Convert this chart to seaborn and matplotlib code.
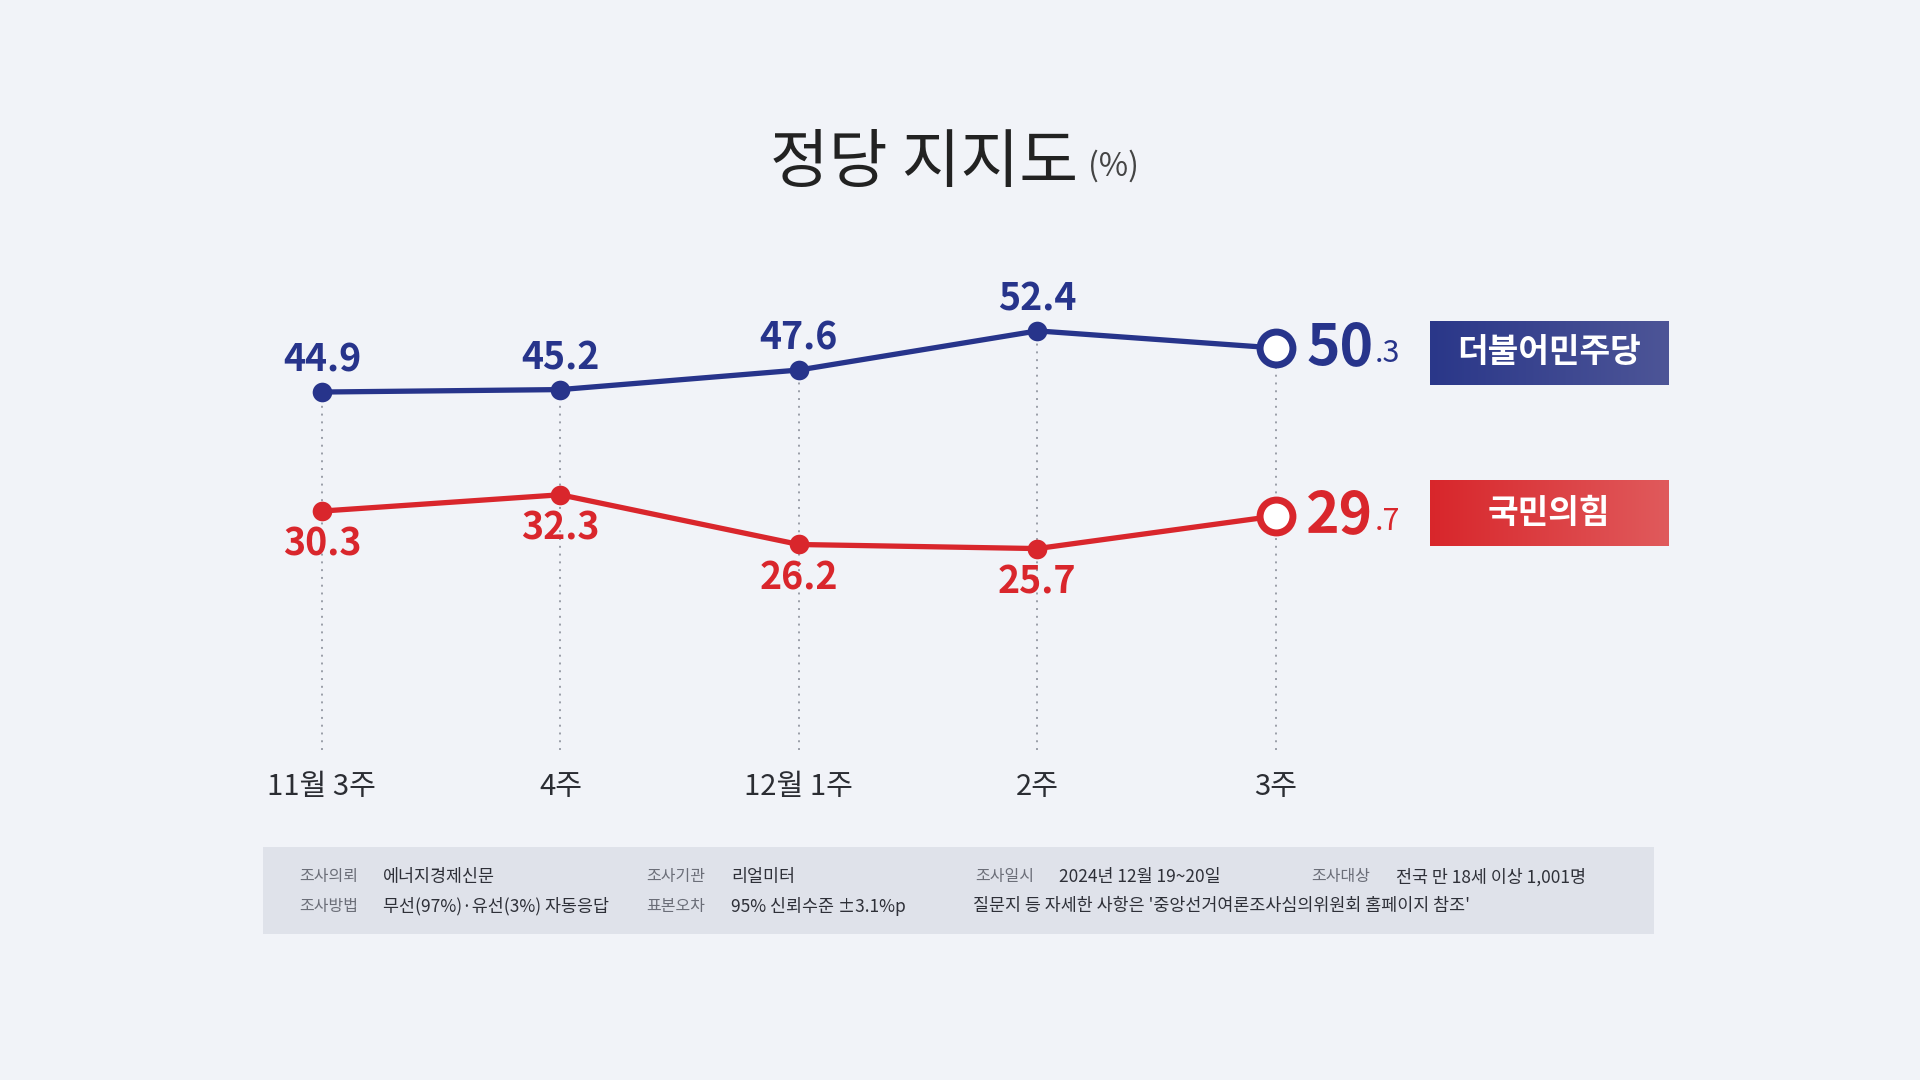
import matplotlib
matplotlib.use("Agg")
import matplotlib.pyplot as plt
import numpy as np
import pandas as pd
import seaborn as sns

# data
weeks = ["11월 3주", "4주", "12월 1주", "2주", "3주"]
parties = ["더불어민주당", "국민의힘"]
dem_vals = [44.9, 45.2, 47.6, 52.4, 50.3]
ppp_vals = [30.3, 32.3, 26.2, 25.7, 29.7]

colors = {"더불어민주당": "#27348b", "국민의힘": "#d9262c"}
box_grad = {"더불어민주당": ("#2a3789", "#4d5597"), "국민의힘": ("#d8262b", "#e05a5c")}

footer_rows = [
    [("조사의뢰", "에너지경제신문"), ("조사기관", "리얼미터"),
     ("조사일시", "2024년 12월 19~20일"), ("조사대상", "전국 만 18세 이상 1,001명")],
    [("조사방법", "무선(97%)·유선(3%) 자동응답"), ("표본오차", "95% 신뢰수준 ±3.1%p"),
     ("", "질문지 등 자세한 사항은 '중앙선거여론조사심의위원회 홈페이지 참조'")],
]

BG = "#f1f3f8"
FONT = ["Noto Sans CJK KR", "DejaVu Sans"]

sns.set_theme(style="white")
plt.rcParams["font.family"] = FONT

df = pd.DataFrame({
    "x": list(range(len(weeks))) * 2,
    "value": dem_vals + ppp_vals,
    "party": [parties[0]] * len(weeks) + [parties[1]] * len(weeks),
})

fig = plt.figure(figsize=(19.2, 10.8), dpi=100, facecolor=BG)
ax = fig.add_axes([202.75 / 1920, 0.3056, 1550 / 1920, 0.4454])
ax.set_facecolor(BG)

# dotted guides from the top point down
tops = np.maximum(dem_vals, ppp_vals)
ax.vlines(range(len(weeks)), 1, tops, colors="#9a9ea8", linestyles=(0, (1, 3)), lw=1.4, zorder=1)

sns.lineplot(data=df, x="x", y="value", hue="party", palette=colors, lw=3.8,
             legend=False, ax=ax, zorder=3)

last = len(weeks) - 1
for p in parties:
    sub = df[df.party == p]
    body = sub[sub.x < last]
    end = sub[sub.x == last]
    sns.scatterplot(data=body, x="x", y="value", color=colors[p], s=200,
                    edgecolor=colors[p], linewidth=0, ax=ax, zorder=4, legend=False)
    sns.scatterplot(data=end, x="x", y="value", color="white", s=560,
                    edgecolor=colors[p], linewidth=5, ax=ax, zorder=5, legend=False)

# value labels
for i in range(last):
    ax.annotate(f"{dem_vals[i]}", (i, dem_vals[i]), xytext=(0, 23), textcoords="offset points",
                ha="center", va="center", fontsize=27, fontweight="bold",
                color=colors[parties[0]])
    ax.annotate(f"{ppp_vals[i]}", (i, ppp_vals[i]), xytext=(0, -24), textcoords="offset points",
                ha="center", va="center", fontsize=27, fontweight="bold",
                color=colors[parties[1]])

# last-point big labels: big integer part, small decimal
for p, vals in zip(parties, [dem_vals, ppp_vals]):
    whole, frac = f"{vals[last]:.1f}".split(".")
    t = ax.annotate(whole, (last, vals[last]), xytext=(22, 0), textcoords="offset points",
                    ha="left", va="center", fontsize=41, fontweight="bold", color=colors[p])
    ax.annotate("." + frac, xy=(1.0, 0.13), xycoords=t, xytext=(1, 0),
                textcoords="offset points", ha="left", va="bottom",
                fontsize=22, fontweight="medium", color=colors[p])

ax.set_xlim(-0.5, 6.0)
ax.set_ylim(1, 60)
ax.set_xticks(range(len(weeks)))
ax.set_xticklabels(weeks, fontsize=21, color="#2b2d33")
ax.tick_params(axis="x", length=0, pad=16)
ax.set_yticks([])
ax.set_xlabel("")
ax.set_ylabel("")
for s in ax.spines.values():
    s.set_visible(False)

# legend boxes with gradient
grad = np.linspace(0, 1, 256).reshape(1, -1)
for p, rect in zip(parties, [[0.7448, 0.6435, 0.124, 0.0593], [0.7448, 0.4944, 0.124, 0.0611]]):
    bax = fig.add_axes(rect)
    cmap = matplotlib.colors.LinearSegmentedColormap.from_list(p, box_grad[p])
    bax.imshow(grad, aspect="auto", cmap=cmap, extent=(0, 1, 0, 1))
    bax.text(0.5, 0.5, p, ha="center", va="center", fontsize=24, fontweight="bold",
             color="white", transform=bax.transAxes)
    bax.set_axis_off()

# title
fig.text(1078 / 1920, 0.848, "정당 지지도", ha="right", va="center", fontsize=46, color="#222222")
fig.text(1088 / 1920, 0.846, "(%)", ha="left", va="center", fontsize=23, color="#444444")

# footer box
fax = fig.add_axes([263 / 1920, (1080 - 934) / 1080, (1654 - 263) / 1920, 87 / 1080])
fax.set_facecolor("#dfe2ea")
fax.set_xticks([])
fax.set_yticks([])
for s in fax.spines.values():
    s.set_visible(False)

col_x = [(299, 383), (646, 731), (975, 1059), (1311, 1396)]
row_y = [877, 906]
for r, row in enumerate(footer_rows):
    for c, (lab, val) in enumerate(row):
        lx, vx = col_x[c]
        y = (1080 - row_y[r]) / 1080
        if lab:
            fig.text(lx / 1920, y, lab, ha="left", va="center", fontsize=11.5, color="#6b6e78")
            fig.text(vx / 1920, y, val, ha="left", va="center", fontsize=12.5, color="#2e3038")
        else:
            fig.text(973 / 1920, y, val, ha="left", va="center", fontsize=12.5, color="#2e3038")

fig.savefig("out.png", dpi=100, facecolor=BG)
